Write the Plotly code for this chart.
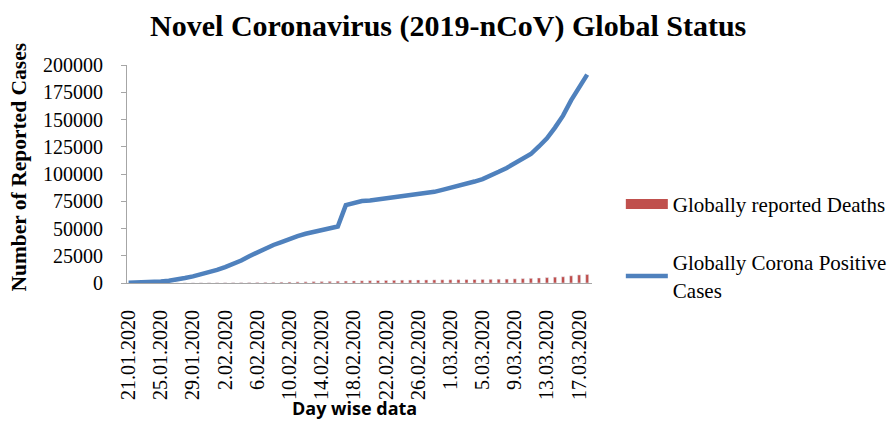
import plotly.graph_objects as go

dates = ["21.01.2020","22.01.2020","23.01.2020","24.01.2020","25.01.2020","26.01.2020","27.01.2020",
         "28.01.2020","29.01.2020","30.01.2020","31.01.2020","1.02.2020","2.02.2020","3.02.2020",
         "4.02.2020","5.02.2020","6.02.2020","7.02.2020","8.02.2020","9.02.2020","10.02.2020",
         "11.02.2020","12.02.2020","13.02.2020","14.02.2020","15.02.2020","16.02.2020","17.02.2020",
         "18.02.2020","19.02.2020","20.02.2020","21.02.2020","22.02.2020","23.02.2020","24.02.2020",
         "25.02.2020","26.02.2020","27.02.2020","28.02.2020","29.02.2020","1.03.2020","2.03.2020",
         "3.03.2020","4.03.2020","5.03.2020","6.03.2020","7.03.2020","8.03.2020","9.03.2020",
         "10.03.2020","11.03.2020","12.03.2020","13.03.2020","14.03.2020","15.03.2020","16.03.2020",
         "17.03.2020","18.03.2020"]

cases = [282, 314, 581, 846, 1320, 2014, 2798, 4593, 6065, 7818, 9826, 11953, 14557, 17391,
         20630, 24554, 28276, 31481, 34886, 37558, 40554, 43103, 45171, 46997, 49053, 50580,
         51857, 71429, 73332, 75204, 75748, 76769, 77794, 78811, 79331, 80239, 81109, 82294,
         83652, 85403, 87137, 88948, 90870, 93090, 95324, 98192, 102015, 105586, 109577,
         113702, 118319, 125260, 132758, 142539, 153517, 167515, 179111, 191127]

deaths = [6, 6, 17, 25, 41, 56, 80, 106, 132, 170, 213, 259, 305, 362, 426, 492, 565, 638,
          724, 813, 910, 1018, 1115, 1369, 1383, 1526, 1669, 1775, 1873, 2009, 2129, 2247,
          2360, 2462, 2618, 2699, 2763, 2804, 2858, 2924, 2977, 3043, 3112, 3198, 3285, 3380,
          3491, 3584, 3809, 4012, 4292, 4613, 4955, 5393, 5735, 6606, 7426, 7807]

tick_labels = dates[::4]
y_ticks = [0, 25000, 50000, 75000, 100000, 125000, 150000, 175000, 200000]
y_tick_text = [str(v) for v in y_ticks]

RED = "#C0504D"
BLUE = "#4F81BD"
SERIF = "Liberation Serif"

fig = go.Figure()
fig.add_trace(go.Bar(x=dates, y=deaths, marker_color=RED, name="Globally reported Deaths",
                     showlegend=False, width=0.38))
fig.add_trace(go.Scatter(x=dates, y=cases, mode="lines", line=dict(color=BLUE, width=4.5),
                         name="Globally Corona Positive<br>Cases", showlegend=False))
# legend entries
fig.add_trace(go.Scatter(x=[None], y=[None], mode="lines", line=dict(color=RED, width=10),
                         name="Globally reported Deaths", legendgroup="a"))
fig.add_trace(go.Scatter(x=[None], y=[None], mode="lines", line=dict(color=BLUE, width=4.5),
                         name="Globally Corona Positive<br>Cases", legendgroup="b"))

fig.update_layout(
    width=891, height=422,
    margin=dict(l=127, r=299, t=65, b=139, autoexpand=False),
    plot_bgcolor="white", paper_bgcolor="white",
    title=dict(text="<b>Novel Coronavirus (2019-nCoV) Global Status</b>",
               x=0.503, xanchor="center", y=0.94, yanchor="middle",
               font=dict(family=SERIF, size=30, color="black")),
    xaxis=dict(type="category", range=[-0.2, 57.6], tickmode="array", tickvals=tick_labels,
               ticktext=tick_labels, tickangle=-90, showline=True, linecolor="#A6A6A6",
               linewidth=1, ticks="", showgrid=False, ticklabelstandoff=18, automargin=False,
               tickfont=dict(family=SERIF, size=20, color="black")),
    yaxis=dict(range=[0, 200000], tickmode="array", tickvals=y_ticks, ticktext=y_tick_text,
               showline=True, linecolor="#A6A6A6", automargin=False,
               linewidth=1, ticks="outside", ticklen=5, tickcolor="#A6A6A6", showgrid=False,
               zeroline=False, ticklabelstandoff=14,
               tickfont=dict(family=SERIF, size=20, color="black")),
    legend=dict(x=1.062, y=0.455, xanchor="left", yanchor="top", traceorder="grouped",
                tracegroupgap=28, itemwidth=42, font=dict(family=SERIF, size=21, color="black"),
                bgcolor="rgba(0,0,0,0)"),
    bargap=0.6,
    showlegend=True,
)

fig.add_annotation(text="<b>Number of Reported Cases</b>", textangle=-90, xref="paper", yref="paper",
                   x=-0.232, y=0.53, xanchor="center", yanchor="middle", showarrow=False,
                   font=dict(family=SERIF, size=21.5, color="black"))
fig.add_annotation(text="<b>Day wise data</b>", xref="paper", yref="paper",
                   x=0.49, y=-0.575, xanchor="center", yanchor="middle", showarrow=False,
                   font=dict(family="Open Sans", size=18, color="black"))

fig.write_html("out.html", config={"displayModeBar": False},
               post_script="document.body.style.margin='0px';")
